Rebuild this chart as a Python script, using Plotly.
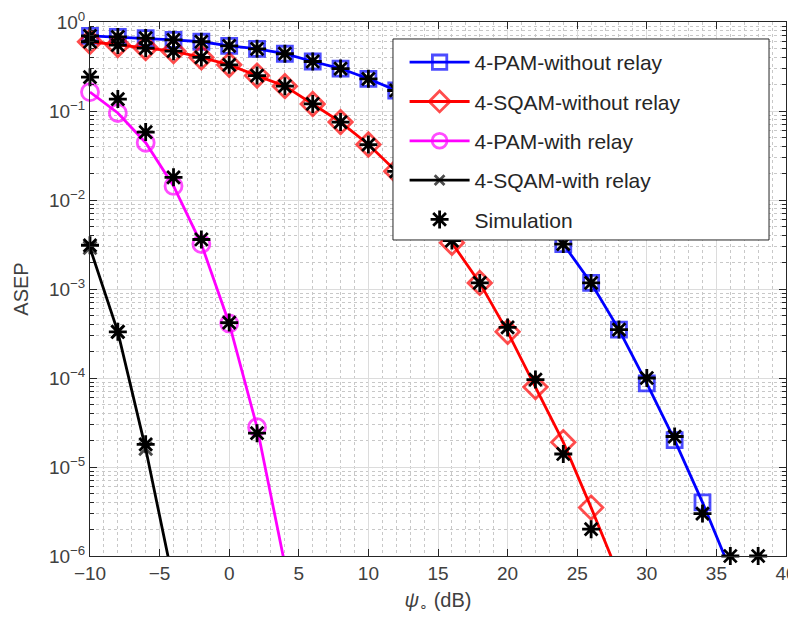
import plotly.graph_objects as go

# ---------------- data ----------------
snr = [-10, -8, -6, -4, -2, 0, 2, 4, 6, 8, 10, 12, 14, 16, 18, 20, 22, 24, 26, 28, 30, 32, 34, 36]

pam_no_relay = [0.70, 0.68, 0.66, 0.63, 0.60, 0.54, 0.50, 0.44, 0.36, 0.30, 0.23, 0.17,
                0.105, 0.060, 0.032, 0.0166, 0.0078, 3.2e-3, 1.17e-3, 3.5e-4, 8.7e-5, 2.0e-5, 4.0e-6, 7.0e-7]
sqam_no_relay = [0.60, 0.55, 0.51, 0.47, 0.40, 0.33, 0.25, 0.19, 0.12, 0.075, 0.042, 0.021,
                 8.3e-3, 3.3e-3, 1.17e-3, 3.3e-4, 7.9e-5, 1.9e-5, 3.5e-6, 6.0e-7]
pam_relay = [0.163, 0.095, 0.044, 0.0144, 3.2e-3, 4.1e-4, 2.8e-5, 8.0e-7]
sqam_relay = [2.9e-3, 3.3e-4, 1.6e-5, 5.0e-7]

sim_pam_no_relay_x = [-10, -8, -6, -4, -2, 0, 2, 4, 6, 8, 10, 12, 14, 16, 18, 20, 22, 24, 26, 28, 30, 32, 34, 36, 38]
sim_pam_no_relay = [0.70, 0.68, 0.66, 0.63, 0.60, 0.54, 0.50, 0.44, 0.36, 0.30, 0.23, 0.17,
                    0.105, 0.060, 0.032, 0.0166, 0.0078, 3.2e-3, 1.17e-3, 3.5e-4, 1.0e-4, 2.2e-5, 3.0e-6, 1e-6, 1e-6]
sim_sqam_no_relay_x = [-10, -8, -6, -4, -2, 0, 2, 4, 6, 8, 10, 12, 14, 16, 18, 20, 22, 24, 26]
sim_sqam_no_relay = [0.60, 0.55, 0.51, 0.47, 0.40, 0.33, 0.25, 0.19, 0.12, 0.075, 0.042, 0.021,
                     8.3e-3, 3.5e-3, 1.17e-3, 3.7e-4, 9.6e-5, 1.4e-5, 2.0e-6]
sim_pam_relay_x = [-10, -8, -6, -4, -2, 0, 2]
sim_pam_relay = [0.24, 0.136, 0.058, 0.018, 3.6e-3, 4.2e-4, 2.4e-5]
sim_sqam_relay_x = [-10, -8, -6]
sim_sqam_relay = [3.1e-3, 3.3e-4, 1.8e-5]

x_ticks = [-10, -5, 0, 5, 10, 15, 20, 25, 30, 35, 40]
y_ticks = [1e-6, 1e-5, 1e-4, 1e-3, 1e-2, 1e-1, 1]
y_tick_labels = ["10<sup>\u22126</sup>", "10<sup>\u22125</sup>", "10<sup>\u22124</sup>",
                 "10<sup>\u22123</sup>", "10<sup>\u22122</sup>", "10<sup>\u22121</sup>", "10<sup>0</sup>"]

FONT = "Liberation Sans, Arial, Helvetica, sans-serif"
YMIN = 1e-6
LW = 2.8


def sizes(vals, s):
    return [s if v >= YMIN else 0 for v in vals]


fig = go.Figure()

fig.add_trace(go.Scatter(
    x=snr[:len(pam_no_relay)], y=pam_no_relay, name="4-PAM-without relay",
    mode="lines+markers", cliponaxis=False, legendgroup="a",
    line=dict(color="#0000ff", width=LW),
    marker=dict(symbol="square-open", size=sizes(pam_no_relay, 15), color="#0000ff",
                line=dict(width=LW, color="#0000ff"))))
fig.add_trace(go.Scatter(
    x=snr[:len(sqam_no_relay)], y=sqam_no_relay, name="4-SQAM-without relay",
    mode="lines+markers", cliponaxis=False, legendgroup="b",
    line=dict(color="#ff0000", width=LW),
    marker=dict(symbol="diamond-open", size=sizes(sqam_no_relay, 18), color="#ff0000",
                line=dict(width=LW, color="#ff0000"))))
fig.add_trace(go.Scatter(
    x=snr[:len(pam_relay)], y=pam_relay, name="4-PAM-with relay",
    mode="lines+markers", cliponaxis=False, legendgroup="c",
    line=dict(color="#ff00ff", width=LW),
    marker=dict(symbol="circle-open", size=sizes(pam_relay, 17), color="#ff00ff",
                line=dict(width=LW, color="#ff00ff"))))
fig.add_trace(go.Scatter(
    x=snr[:len(sqam_relay)], y=sqam_relay, name="4-SQAM-with relay",
    mode="lines+markers", cliponaxis=False, legendgroup="d",
    line=dict(color="#000000", width=LW),
    marker=dict(symbol="x-thin-open", size=sizes(sqam_relay, 13), color="#000000",
                line=dict(width=LW, color="#000000"))))

sim_x = sim_pam_no_relay_x + sim_sqam_no_relay_x + sim_pam_relay_x + sim_sqam_relay_x
sim_y = sim_pam_no_relay + sim_sqam_no_relay + sim_pam_relay + sim_sqam_relay
fig.add_trace(go.Scatter(
    x=sim_x, y=sim_y, name="Simulation", mode="markers", cliponaxis=False, legendgroup="e",
    marker=dict(symbol="asterisk-open", size=15, color="#000000",
                line=dict(width=LW, color="#000000"))))

axis_common = dict(
    showline=True, linecolor="#262626", linewidth=1, mirror="ticks",
    ticks="inside", ticklen=7, tickcolor="#262626", tickwidth=1,
    showgrid=True, gridcolor="#dcdcdc", gridwidth=1, zeroline=False,
    automargin=False, ticklabeloverflow="allow",
    tickfont=dict(family=FONT, size=19, color="#404040"),
)

fig.update_xaxes(
    range=[-10, 40], tickvals=x_ticks,
    title=dict(text="<i>\u03c8</i><sub>\u2218</sub> (dB)", font=dict(family=FONT, size=20, color="#404040"),
               standoff=17),
    minor=dict(dtick=1, showgrid=True, griddash="dot", gridcolor="#c8c8c8", gridwidth=1, ticks=""),
    **axis_common)
fig.update_yaxes(
    type="log", range=[-6, 0], tickvals=y_ticks, ticktext=y_tick_labels,
    title=dict(text="ASEP", font=dict(family=FONT, size=20, color="#404040"), standoff=14),
    minor=dict(dtick="D1", showgrid=True, griddash="dot", gridcolor="#c8c8c8", gridwidth=1,
               ticks="inside", ticklen=4, tickcolor="#262626"),
    **axis_common)

# legend frame (MATLAB legend box, wider than its text)
fig.add_shape(type="rect", xref="paper", yref="paper",
              x0=0.4353, x1=0.9756, y0=0.5918, y1=0.9682,
              fillcolor="white", line=dict(color="#262626", width=1), layer="above")

# the page body has an 8px margin; figure sized so the page does not scroll
fig.update_layout(
    width=788, height=606,
    margin=dict(l=82, r=10, t=14, b=58),
    paper_bgcolor="white", plot_bgcolor="white",
    font=dict(family=FONT, size=18, color="#262626"),
    showlegend=True,
    legend=dict(
        x=0.452, y=0.9625, xanchor="left", yanchor="top",
        bgcolor="rgba(0,0,0,0)", borderwidth=0,
        font=dict(family=FONT, size=21, color="#262626"),
        tracegroupgap=9, itemwidth=60,
    ),
)

fig.write_html("out.html")
